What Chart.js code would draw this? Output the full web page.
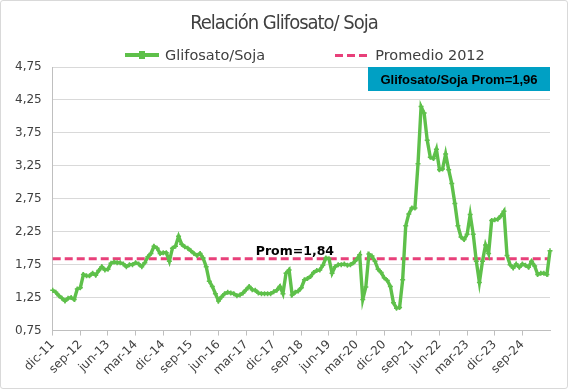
<!DOCTYPE html>
<html>
<head>
<meta charset="utf-8">
<script src="https://cdn.jsdelivr.net/npm/chart.js@4.4.0/dist/chart.umd.min.js"></script>
<style>
    html, body { margin: 0; padding: 0; background: #fff; }
    #wrap { position: relative; width: 566px; height: 387px; border: 1px solid #d9d9d9; border-radius: 3px; overflow: hidden; }
    #chart { position: absolute; left: 0; top: 0; }
    #title { position: absolute; left: 0; right: 0; top: 9px; text-align: center; color: #404040;
        font-family: "Liberation Sans Narrow", "DejaVu Sans Condensed", sans-serif; font-size: 20px; letter-spacing: -1px; }
    #legend { position: absolute; left: 124px; top: 46px; display: flex; align-items: center;
        font-family: "DejaVu Sans", sans-serif; font-size: 14.5px; color: #404040; }
    .item { display: flex; align-items: center; }
    .item + .item { margin-left: 70px; }
    .swatch { position: relative; width: 34px; height: 4px; margin-right: 6px; }
    .swatch.green { background: #5ec04a; }
    .swatch.green::after { content: ''; position: absolute; left: 14px; top: -2px; width: 6px; height: 8px; background: #5ec04a; }
    .swatch.pink { height: 3px; background: repeating-linear-gradient(90deg, #e8407a 0 8px, transparent 8px 12px); }
</style>
</head>
<body>
<div id="wrap">
    <canvas id="chart" width="566" height="387"></canvas>
    <div id="title">Relación Glifosato/ Soja</div>
    <div id="legend">
        <div class="item"><span class="swatch green"></span><span>Glifosato/Soja</span></div>
        <div class="item"><span class="swatch pink"></span><span>Promedio 2012</span></div>
    </div>
</div>
<script>
// monthly ratio, dic-11 onwards
const glifosatoSoja = [
    1.36, 1.33, 1.28, 1.24, 1.20, 1.24, 1.25, 1.22, 1.38, 1.40,
    1.60, 1.58, 1.58, 1.62, 1.59, 1.66, 1.72, 1.67, 1.68, 1.77,
    1.79, 1.78, 1.78, 1.76, 1.72, 1.75, 1.75, 1.78, 1.76, 1.72,
    1.78, 1.87, 1.92, 2.03, 2.00, 1.92, 1.93, 1.93, 1.80, 2.00,
    2.03, 2.18, 2.06, 2.02, 2.00, 1.96, 1.92, 1.89, 1.92, 1.85,
    1.72, 1.50, 1.42, 1.31, 1.20, 1.26, 1.31, 1.33, 1.32, 1.31,
    1.28, 1.29, 1.32, 1.37, 1.42, 1.37, 1.36, 1.32, 1.31, 1.31,
    1.31, 1.31, 1.34, 1.36, 1.42, 1.31, 1.62, 1.67, 1.29, 1.33,
    1.35, 1.40, 1.52, 1.54, 1.57, 1.63, 1.66, 1.67, 1.74, 1.85,
    1.84, 1.62, 1.72, 1.75, 1.75, 1.76, 1.74, 1.75, 1.78, 1.83,
    1.90, 1.22, 1.41, 1.91, 1.88, 1.80, 1.68, 1.63, 1.55, 1.51,
    1.42, 1.17, 1.09, 1.10, 1.52, 2.34, 2.52, 2.61, 2.61, 3.28,
    4.15, 4.05, 3.64, 3.38, 3.36, 3.50, 3.19, 3.20, 3.43, 3.19,
    2.98, 2.68, 2.34, 2.17, 2.13, 2.21, 2.51, 2.21, 1.80, 1.48,
    1.80, 2.05, 1.92, 2.42, 2.43, 2.44, 2.49, 2.56, 1.89, 1.75,
    1.70, 1.76, 1.71, 1.76, 1.74, 1.71, 1.80, 1.73, 1.60, 1.62,
    1.62, 1.60, 1.96
];

const promedio2012 = 1.84;
const promedioTotal = 1.96;

const xTickLabels = ['dic-11', 'sep-12', 'jun-13', 'mar-14', 'dic-14', 'sep-15', 'jun-16', 'mar-17', 'dic-17',
    'sep-18', 'jun-19', 'mar-20', 'dic-20', 'sep-21', 'jun-22', 'mar-23', 'dic-23', 'sep-24'];
const yTicks = [0.75, 1.25, 1.75, 2.25, 2.75, 3.25, 3.75, 4.25, 4.75];

const MESES = ['ene', 'feb', 'mar', 'abr', 'may', 'jun', 'jul', 'ago', 'sep', 'oct', 'nov', 'dic'];
const monthLabels = glifosatoSoja.map((_, i) => {
    const m = 11 + i;
    const year = 11 + Math.floor(m / 12);
    return `${MESES[m % 12]}-${String(year).padStart(2, '0')}`;
});

const GREEN = '#5ec04a';
const PINK = '#e8407a';
const TEXT = '#404040';

const fmt = (v) => v.toFixed(2).replace('.', ',');

const annotations = {
    id: 'annotations',
    afterDatasetsDraw(chart) {
        const { ctx, chartArea, scales } = chart;
        const yAvg = scales.y.getPixelForValue(promedio2012);
        ctx.save();
        ctx.font = 'bold 12.5px "DejaVu Sans"';
        ctx.fillStyle = '#000';
        ctx.textAlign = 'center';
        ctx.textBaseline = 'alphabetic';
        ctx.fillText(`Prom=${fmt(promedio2012)}`, chartArea.left + chartArea.width * 0.487, yAvg - 4);

        const boxW = 182;
        const boxH = 24;
        const bx = chartArea.right - boxW;
        const by = chartArea.top;
        ctx.fillStyle = '#00a0c4';
        ctx.fillRect(bx, by, boxW, boxH);
        ctx.fillStyle = '#000';
        ctx.font = 'bold 13px "Liberation Sans"';
        ctx.textBaseline = 'middle';
        ctx.fillText(`Glifosato/Soja Prom=${fmt(promedioTotal)}`, bx + boxW / 2, by + boxH / 2 + 1);
        ctx.restore();
    },
};

const ctx = document.getElementById('chart').getContext('2d');
new Chart(ctx, {
    type: 'line',
    data: {
        labels: monthLabels,
        datasets: [{
            label: 'Glifosato/Soja',
            data: glifosatoSoja,
            borderColor: GREEN,
            backgroundColor: GREEN,
            borderWidth: 3.4,
            pointStyle: 'cross',
            pointRadius: 2.5,
            pointBorderWidth: 1.5,
            pointBorderColor: GREEN,
            tension: 0,
        }, {
            label: 'Promedio 2012',
            data: monthLabels.map(() => promedio2012),
            borderColor: PINK,
            borderWidth: 3,
            borderDash: [8, 4],
            pointRadius: 0,
        }],
    },
    options: {
        responsive: false,
        animation: false,
        layout: { padding: { top: 66, left: 3, right: 17, bottom: 8 } },
        plugins: {
            legend: { display: false },
            title: { display: false },
            tooltip: { enabled: false },
        },
        scales: {
            x: {
                type: 'category',
                offset: false,
                grid: {
                    drawOnChartArea: false,
                    tickLength: 5,
                    tickColor: (c) => xTickLabels.includes(monthLabels[c.index]) ? '#bfbfbf' : 'rgba(0,0,0,0)',
                },
                border: { color: '#bfbfbf' },
                ticks: {
                    autoSkip: false,
                    minRotation: 45,
                    maxRotation: 45,
                    padding: 2,
                    color: TEXT,
                    font: { family: 'DejaVu Sans', size: 12 },
                    callback: (v, i) => xTickLabels.includes(monthLabels[i]) ? monthLabels[i] : '',
                },
            },
            y: {
                min: yTicks[0],
                max: yTicks[yTicks.length - 1],
                afterBuildTicks: (axis) => { axis.ticks = yTicks.map((v) => ({ value: v })); },
                grid: { color: '#d9d9d9', drawTicks: false },
                border: { color: '#bfbfbf' },
                ticks: {
                    padding: 11,
                    color: TEXT,
                    font: { family: 'DejaVu Sans', size: 12 },
                    callback: (v) => fmt(v),
                },
            },
        },
    },
    plugins: [annotations],
});
</script>
</body>
</html>
